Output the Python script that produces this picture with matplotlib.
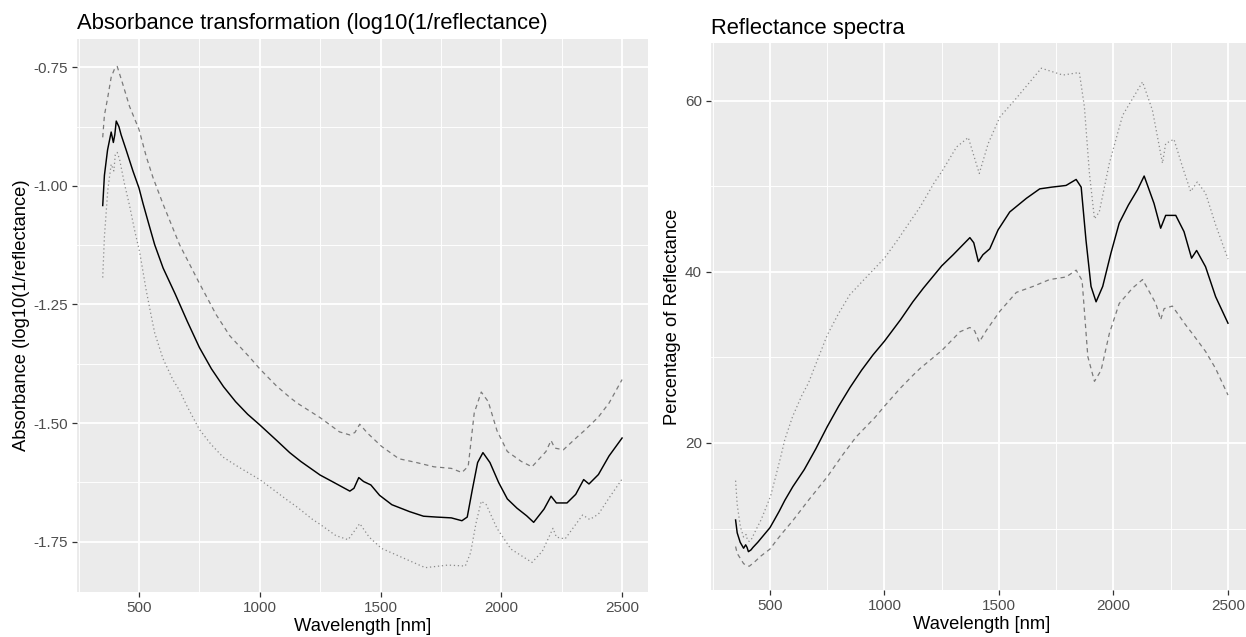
import numpy as np
import matplotlib
matplotlib.use('Agg')
import matplotlib.pyplot as plt
from matplotlib.ticker import MultipleLocator

plt.rcParams['font.family'] = ['Liberation Sans', 'DejaVu Sans']

# mean reflectance (%)
wl_mean = [350, 357, 370, 385, 394, 400, 406, 417, 426, 447, 475, 500, 517, 540, 565,
           600, 650, 700, 750, 800, 850, 900, 950, 1000, 1070, 1124, 1170, 1250, 1300,
           1373, 1390, 1410, 1430, 1460, 1496, 1547, 1620, 1678, 1730, 1793, 1837,
           1859, 1880, 1902, 1924, 1953, 1989, 2025, 2065, 2105, 2134, 2177, 2206,
           2228, 2272, 2308, 2341, 2363, 2402, 2446, 2500]
refl_mean = [11.0, 9.5, 8.4, 7.7, 8.1, 7.8, 7.3, 7.5, 7.8, 8.4, 9.3, 10.1, 10.9, 12.0, 13.3,
             14.9, 16.9, 19.3, 21.9, 24.3, 26.5, 28.5, 30.3, 31.9, 34.4, 36.5, 38.1, 40.7, 42.0,
             44.0, 43.4, 41.2, 42.0, 42.7, 44.9, 47.0, 48.6, 49.7, 49.9, 50.1, 50.8,
             49.9, 43.7, 38.3, 36.5, 38.3, 42.2, 45.7, 47.8, 49.6, 51.2, 48.0, 45.1,
             46.6, 46.6, 44.7, 41.6, 42.5, 40.6, 37.1, 34.0]

# upper reflectance (dotted)
wl_hi = [350, 357, 371, 385, 396, 402, 410, 420, 440, 461, 482, 503, 530, 549, 565,
         599, 640, 668, 700, 750, 797, 848, 911, 1000, 1054, 1110, 1156, 1219, 1250, 1315,
         1366, 1414, 1453, 1504, 1576, 1685, 1779, 1851, 1873, 1895, 1917, 1938, 1982,
         2040, 2127, 2170, 2214, 2228, 2264, 2301, 2337, 2366, 2402, 2446, 2500]
refl_hi = [15.6, 12.8, 10.2, 9.0, 9.3, 8.6, 8.5, 8.8, 9.9, 11.0, 12.4, 13.8, 16.6, 18.6, 20.4,
           23.1, 25.6, 27.0, 29.2, 32.6, 35.0, 37.3, 39.1, 41.6, 43.6, 45.8, 47.6, 50.5, 51.7, 54.6,
           55.7, 51.5, 55.0, 58.1, 60.3, 63.8, 63.0, 63.3, 59.3, 51.5, 46.2, 47.0, 52.7,
           58.3, 62.2, 58.9, 52.7, 55.0, 55.5, 52.3, 49.4, 50.5, 49.2, 45.5, 41.5]

# lower reflectance (dashed)
wl_lo = [350, 357, 371, 385, 400, 410, 433, 461, 500, 531, 558, 599, 668, 749, 820,
         876, 959, 1000, 1069, 1124, 1155, 1250, 1330, 1373, 1394, 1414, 1446, 1504, 1576,
         1649, 1721, 1793, 1837, 1863, 1888, 1917, 1946, 1982, 2025, 2083, 2127, 2185,
         2206, 2221, 2257, 2315, 2344, 2402, 2446, 2500]
refl_lo = [7.9, 7.1, 6.5, 5.9, 5.65, 5.6, 6.1, 6.8, 7.6, 8.7, 9.6, 10.9, 13.3, 16.0, 18.7,
           20.7, 23.0, 24.3, 26.4, 27.9, 28.7, 30.8, 33.0, 33.5, 33.1, 31.8, 33.2, 35.4, 37.6,
           38.3, 39.1, 39.4, 40.2, 39.0, 30.1, 27.2, 28.5, 32.8, 36.3, 38.1, 39.1, 36.3,
           34.4, 35.7, 36.0, 33.8, 32.8, 30.7, 28.7, 25.6]

series = [
    (wl_mean, refl_mean, dict(color='black', lw=1.05, ls='-')),
    (wl_lo, refl_lo, dict(color='#7a7a7a', lw=0.9, ls=(0, (3.5, 3)))),
    (wl_hi, refl_hi, dict(color='#8a8a8a', lw=0.9, ls=(0, (1, 2.2)))),
]


def gg_style(ax):
    ax.set_facecolor('#EBEBEB')
    for s in ax.spines.values():
        s.set_visible(False)
    ax.grid(which='major', color='white', lw=1.3)
    ax.grid(which='minor', color='white', lw=0.65)
    ax.set_axisbelow(True)
    ax.tick_params(which='major', length=3.6, width=0.9, color='#333333',
                   labelcolor='#4D4D4D', labelsize=11, pad=3)
    ax.tick_params(which='minor', length=0)


fig = plt.figure(figsize=(12.46, 6.37), dpi=100)

# absorbance panel
ax1 = fig.add_axes([0.0616, 0.0711, 0.4585, 0.8677])
for wl, r, st in series:
    ax1.plot(wl, np.log10(1 / np.array(r)), **st)
ax1.set_xlim(242.5, 2607.5)
ax1.set_ylim(-1.8555, -0.6903)
ax1.xaxis.set_major_locator(MultipleLocator(500))
ax1.xaxis.set_minor_locator(MultipleLocator(250))
ax1.yaxis.set_major_locator(MultipleLocator(0.25))
ax1.yaxis.set_minor_locator(MultipleLocator(0.125))
ax1.yaxis.set_major_formatter(plt.FormatStrFormatter('%.2f'))
gg_style(ax1)
ax1.set_title('Absorbance transformation (log10(1/reflectance)', loc='left',
              fontsize=15.8, pad=7)
ax1.set_xlabel('Wavelength [nm]', fontsize=13.2, labelpad=2)
ax1.set_ylabel('Absorbance (log10(1/reflectance)', fontsize=13.2, labelpad=2)

# reflectance panel
ax2 = fig.add_axes([0.5706, 0.0738, 0.4347, 0.8582])
for wl, r, st in series:
    ax2.plot(wl, r, **st)
ax2.set_xlim(242.5, 2607.5)
ax2.set_ylim(2.82, 66.71)
ax2.xaxis.set_major_locator(MultipleLocator(500))
ax2.xaxis.set_minor_locator(MultipleLocator(250))
ax2.yaxis.set_major_locator(MultipleLocator(20))
ax2.yaxis.set_minor_locator(MultipleLocator(10))
gg_style(ax2)
ax2.set_title('Reflectance spectra', loc='left', fontsize=15.8, pad=7)
ax2.set_xlabel('Wavelength [nm]', fontsize=13.2, labelpad=2)
ax2.set_ylabel('Percentage of Reflectance', fontsize=13.2, labelpad=3)

fig.savefig('out.png', dpi=100)
